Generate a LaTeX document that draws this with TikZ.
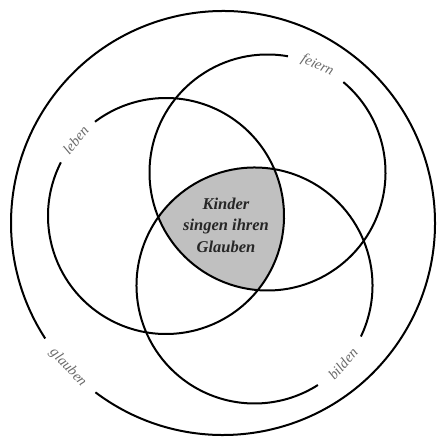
\documentclass[tikz,border=0pt]{standalone}
\usepackage{fontspec}
\setmainfont{Liberation Serif}
\usetikzlibrary{calc}
\definecolor{coregray}{RGB}{192,192,192}
\definecolor{labelgray}{RGB}{105,105,105}
\begin{document}
\begin{tikzpicture}[x=1pt,y=1pt,
  ring/.style={line width=2pt,black},
  lbl/.style={font=\fontsize{14.5}{14.5}\selectfont\itshape,text=labelgray,inner sep=0pt},
  core/.style={font=\fontsize{16.5}{21.5}\selectfont\itshape\bfseries,align=center,text=black!85,inner sep=0pt}]
\useasboundingbox (0,0) rectangle (441,436);
\coordinate (big) at (223,213);
\coordinate (leben) at (166,220);
\coordinate (feiern) at (267.5,263.5);
\coordinate (bilden) at (254.5,150.5);
% shaded intersection
\begin{scope}
  \clip (leben) circle[radius=118];
  \clip (feiern) circle[radius=118];
  \fill[coregray] (bilden) circle[radius=118];
\end{scope}
% circles with gaps
\draw[ring] (big) ++(233:212) arc[start angle=233,end angle=573,radius=212];
\draw[ring] (leben) ++(153:118) arc[start angle=153,end angle=487,radius=118];
\draw[ring] (feiern) ++(80:118) arc[start angle=80,end angle=410,radius=118];
\draw[ring] (bilden) ++(-25.6:118) arc[start angle=-25.6,end angle=302.5,radius=118];
% labels
\node[lbl,rotate=-25] (lf) at ($(feiern)+(65:118)$) {feiern};
\node[lbl,rotate=50] (ll) at ($(leben)+(140:118)$) {leben};
\node[lbl,rotate=48.5] (lb) at ($(bilden)+(-41.5:118)$) {bilden};
\node[lbl,rotate=-47] (lg) at ($(big)+(223:212)$) {glauben};
\node[core] (c) at (226,211) {Kinder\\singen ihren\\Glauben};
\end{tikzpicture}
\end{document}
